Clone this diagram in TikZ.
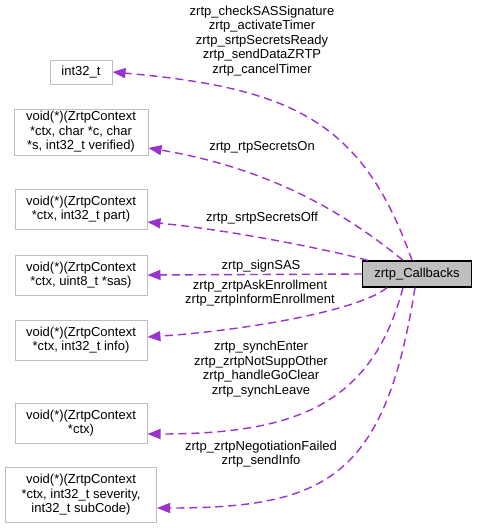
\documentclass[tikz,border=0pt]{standalone}
\usepackage{fontspec}
\setmainfont{Liberation Sans}
\usetikzlibrary{arrows.meta}
\definecolor{relcol}{HTML}{9A32CD}
\definecolor{boxgray}{HTML}{BFBFBF}
\tikzset{
	txt/.style={align=center, inner sep=0pt, font=\fontsize{13}{14.5}\selectfont},
	cls/.style={txt, draw=boxgray, line width=1pt},
	mainbox/.style={txt, draw=black, fill=boxgray, line width=1.3pt, minimum width=109pt, minimum height=26pt},
	rel/.style={draw=relcol, line width=1.4pt, dash pattern=on 8pt off 5pt, -{Triangle[length=13pt,width=10pt]}}
}
\begin{document}
\begin{tikzpicture}[x=1pt,y=-1pt]
	\useasboundingbox (0,0) rectangle (477,528);
	\node[mainbox] at (417,274) (cb) {zrtp\_Callbacks};
	\node[cls, minimum width=62pt, minimum height=24pt] at (81,72) (int) {int32\_t};
	\node[cls, minimum width=134pt, minimum height=46pt] at (81,132) (verif) {void(*)(ZrtpContext\\ *ctx, char *c, char\\ *s, int32\_t verified)};
	\node[cls, minimum width=132pt, minimum height=40pt] at (81,209) (part) {void(*)(ZrtpContext\\ *ctx, int32\_t part)};
	\node[cls, minimum width=132pt, minimum height=40pt] at (81,275) (sas) {void(*)(ZrtpContext\\ *ctx, uint8\_t *sas)};
	\node[cls, minimum width=132pt, minimum height=40pt] at (81,340) (info) {void(*)(ZrtpContext\\ *ctx, int32\_t info)};
	\node[cls, minimum width=132pt, minimum height=40pt] at (81,423) (ctx) {void(*)(ZrtpContext\\ *ctx)};
	\node[cls, minimum width=151pt, minimum height=55pt] at (81,495) (sever) {void(*)(ZrtpContext\\ *ctx, int32\_t severity,\\ int32\_t subCode)};
	
	\node[txt] at (262,41) (l1) {zrtp\_checkSASSignature\\ zrtp\_activateTimer\\ zrtp\_srtpSecretsReady\\ zrtp\_sendDataZRTP\\ zrtp\_cancelTimer};
	\node[txt] at (262,147) (l2) {zrtp\_rtpSecretsOn};
	\node[txt] at (262,218) (l3) {zrtp\_srtpSecretsOff};
	\node[txt] at (261,266) (l4) {zrtp\_signSAS};
	\node[txt] at (260,293) (l5) {zrtp\_zrtpAskEnrollment\\ zrtp\_zrtpInformEnrollment};
	\node[txt] at (261,369) (l6) {zrtp\_synchEnter\\ zrtp\_zrtpNotSuppOther\\ zrtp\_handleGoClear\\ zrtp\_synchLeave};
	\node[txt] at (261,454) (l7) {zrtp\_zrtpNegotiationFailed\\ zrtp\_sendInfo};
	
	\draw[rel] ([xshift=-5pt]cb.north) .. controls (363,121) and (292,88) .. (int.east);
	\draw[rel] ([xshift=-14pt]cb.north) .. controls (330,200) and (250,165) .. ([yshift=-16pt]verif.east);
	\draw[rel] ([xshift=6pt]cb.north west) .. controls (330,250) and (230,230) .. ([yshift=-13pt]part.east);
	\draw[rel] (cb.west) -- (sas.east);
	\draw[rel] ([xshift=-30pt]cb.south) .. controls (360,310) and (250,330) .. ([yshift=3pt]info.east);
	\draw[rel] ([xshift=-14pt]cb.south) .. controls (372,405) and (295,434) .. ([yshift=-11pt]ctx.east);
	\draw[rel] ([xshift=-2pt]cb.south) .. controls (385,478) and (326,508) .. ([yshift=-13pt]sever.east);
\end{tikzpicture}
\end{document}
